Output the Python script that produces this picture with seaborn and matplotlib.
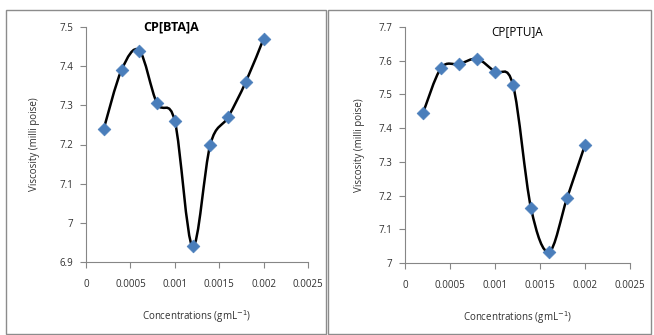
import numpy as np
import seaborn as sns
import matplotlib.pyplot as plt
from matplotlib.path import Path
from matplotlib.patches import PathPatch, Rectangle

conc = [0.0002, 0.0004, 0.0006, 0.0008, 0.0010, 0.0012, 0.0014, 0.0016, 0.0018, 0.0020]
visc_bta = [7.24, 7.39, 7.44, 7.305, 7.26, 6.94, 7.20, 7.27, 7.36, 7.47]
visc_ptu = [7.445, 7.578, 7.59, 7.605, 7.567, 7.528, 7.163, 7.033, 7.192, 7.35]
x_ticks = [0, 0.0005, 0.001, 0.0015, 0.002, 0.0025]
x_labels = ["0", "0.0005", "0.001", "0.0015", "0.002", "0.0025"]
bta_yticks = [6.9, 7.0, 7.1, 7.2, 7.3, 7.4, 7.5]
ptu_yticks = [7.0, 7.1, 7.2, 7.3, 7.4, 7.5, 7.6, 7.7]

sns.set_theme(style="white")
plt.rcParams['font.family'] = ['Open Sans', 'DejaVu Sans']

GREY = '#868686'
BLUE = '#4a7ebb'


def smooth_path(x, y):
    # excel-like smoothed line: catmull-rom turned into cubic beziers
    p = np.column_stack([x, y])
    verts = [p[0]]
    codes = [Path.MOVETO]
    n = len(p)
    for i in range(n - 1):
        p0 = p[i - 1] if i > 0 else p[i]
        p3 = p[i + 2] if i + 2 < n else p[i + 1]
        c1 = p[i] + (p[i + 1] - p0) / 6
        c2 = p[i + 1] - (p3 - p[i]) / 6
        verts += [c1, c2, p[i + 1]]
        codes += [Path.CURVE4] * 3
    return Path(verts, codes)


def panel(ax, y, yticks, ylabels, ypad):
    ax.add_patch(PathPatch(smooth_path(conc, y), facecolor='none', edgecolor='black',
                           lw=1.8, zorder=2))
    sns.scatterplot(x=conc, y=y, ax=ax, marker='D', s=42, color=BLUE, edgecolor=BLUE,
                    linewidth=0.5, zorder=3)
    ax.set_xlim(0, 0.0025)
    ax.set_ylim(yticks[0], yticks[-1])
    ax.set_xticks(x_ticks)
    ax.set_xticklabels(x_labels)
    ax.set_yticks(yticks)
    ax.set_yticklabels(ylabels)
    for s in ['top', 'right']:
        ax.spines[s].set_visible(False)
    for s in ['left', 'bottom']:
        ax.spines[s].set_color(GREY)
        ax.spines[s].set_linewidth(0.8)
    ax.tick_params(axis='both', direction='out', length=4, width=0.8, color=GREY,
                   labelsize=7, labelcolor='#303030')
    ax.tick_params(axis='x', pad=8, bottom=True)
    ax.tick_params(axis='y', pad=5, left=True)
    ax.set_xlabel('Concentrations (gmL$^{-1}$)', fontsize=7, color='#303030', labelpad=13)
    ax.set_ylabel('Viscosity (milli poise)', fontsize=7, color='#303030', labelpad=ypad)


fig = plt.figure(figsize=(6.54, 3.35), dpi=100)
fig.patch.set_facecolor('white')

for x0, x1 in [(6, 326), (328, 651)]:
    fig.patches.append(Rectangle((x0 / 654, 0.003), (x1 - x0) / 654, (334 - 9) / 335 - 0.003,
                                 transform=fig.transFigure, fill=False, edgecolor='#8c8c8c',
                                 lw=1.0))

ax1 = fig.add_axes([86 / 654, 73 / 335, 222 / 654, 235 / 335])
panel(ax1, visc_bta, bta_yticks, ["6.9", "7", "7.1", "7.2", "7.3", "7.4", "7.5"], 14)
ax1.text(0.383, 1.0, 'CP[BTA]A', transform=ax1.transAxes, ha='center', va='center',
         fontsize=9, fontweight='bold', color='black')

ax2 = fig.add_axes([405 / 654, 72 / 335, 225 / 654, 236 / 335])
panel(ax2, visc_ptu, ptu_yticks, ["7", "7.1", "7.2", "7.3", "7.4", "7.5", "7.6", "7.7"], 9.5)
ax2.text(0.5, 0.979, 'CP[PTU]A', transform=ax2.transAxes, ha='center', va='center',
         fontsize=8.5, color='black')

fig.savefig('out.png', dpi=100)
